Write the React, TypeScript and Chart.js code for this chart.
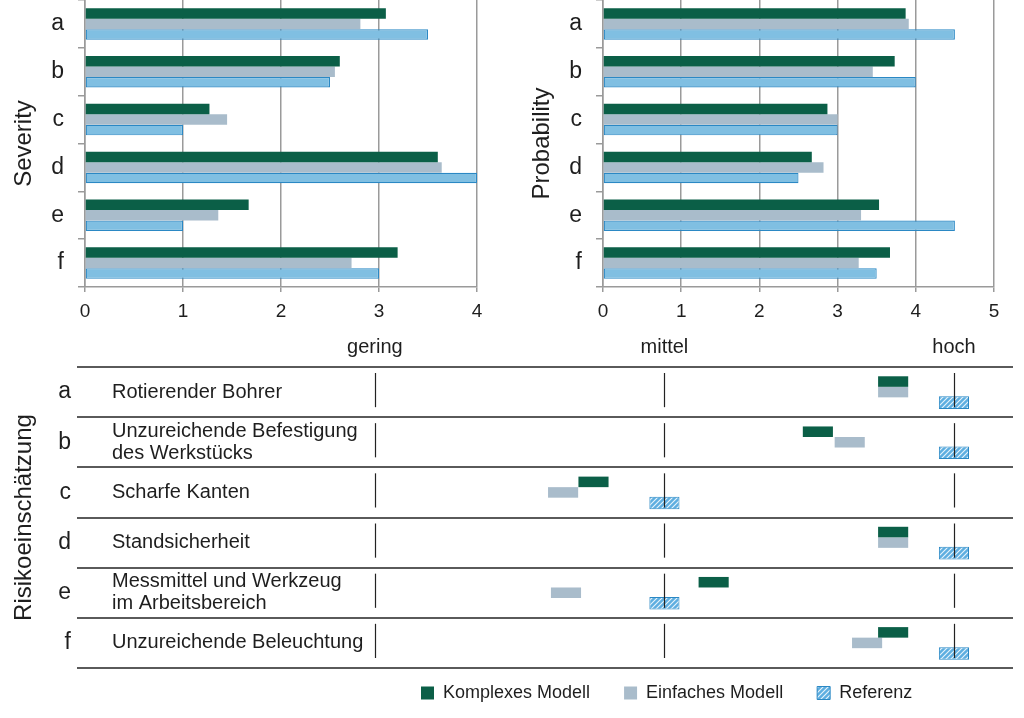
import { useEffect, useRef } from 'react';
import { Chart, registerables } from 'chart.js';

Chart.register(...registerables);

// ---------------- data ----------------
const categories = ['a', 'b', 'c', 'd', 'e', 'f'];
const seriesNames = ['Komplexes Modell', 'Einfaches Modell', 'Referenz'];

const severityKomplex = [3.07, 2.6, 1.27, 3.6, 1.67, 3.19];
const severityEinfach = [2.81, 2.55, 1.45, 3.64, 1.36, 2.72];
const severityReferenz = [3.5, 2.5, 1.0, 4.0, 1.0, 3.0];

const probabilityKomplex = [3.87, 3.73, 2.87, 2.67, 3.53, 3.67];
const probabilityEinfach = [3.91, 3.45, 3.0, 2.82, 3.3, 3.27];
const probabilityReferenz = [4.5, 4.0, 3.0, 2.5, 4.5, 3.5];

// risk assessment on a scale gering = 1, mittel = 2, hoch = 3
const riskKomplex = [2.79, 2.53, 1.755, 2.79, 2.17, 2.79];
const riskEinfach = [2.79, 2.64, 1.65, 2.79, 1.66, 2.7];
const riskReferenz = [3, 3, 2, 3, 2, 3];

const riskDescriptions: (string | string[])[] = [
  'Rotierender Bohrer',
  ['Unzureichende Befestigung', 'des Werkstücks'],
  'Scharfe Kanten',
  'Standsicherheit',
  ['Messmittel und Werkzeug', 'im Arbeitsbereich'],
  'Unzureichende Beleuchtung',
];
const levelLabels = ['gering', 'mittel', 'hoch'];
const levelValues = [1, 2, 3];

// ---------------- styles ----------------
const FONT = 'Arial, "Liberation Sans", Helvetica, sans-serif';
const GREEN = '#0b5f47';
const GRAY = '#a9bccb';
const BLUE = '#80bfe2';
const BLUE_BORDER = '#2b88c4';
const GRID = '#9a9a9a';
const SEP = '#5a5a5a';
const TEXT = '#1e1e1e';
const MARKER_HALF = 0.052;

Chart.defaults.font.family = FONT;

function makePattern(ctx: CanvasRenderingContext2D) {
  const pc = document.createElement('canvas');
  pc.width = 5;
  pc.height = 5;
  const c = pc.getContext('2d')!;
  c.fillStyle = '#5eaee0';
  c.fillRect(0, 0, 5, 5);
  c.strokeStyle = '#e8f4fb';
  c.lineWidth = 1.1;
  c.beginPath();
  c.moveTo(-1, 6); c.lineTo(6, -1);
  c.moveTo(-3.5, 3.5); c.lineTo(3.5, -3.5);
  c.moveTo(1.5, 8.5); c.lineTo(8.5, 1.5);
  c.stroke();
  return ctx.createPattern(pc, 'repeat')!;
}

function zeroPad(s: any) {
  s.paddingTop = 0;
  s.paddingBottom = 0;
  s.paddingLeft = 0;
  s.paddingRight = 0;
}

function topConfig(title: string, k: number[], e: number[], r: number[], max: number, padRight: number): any {
  return {
    type: 'bar',
    data: {
      labels: categories,
      datasets: [
        { label: seriesNames[0], data: k, backgroundColor: GREEN, borderWidth: 0 },
        { label: seriesNames[1], data: e, backgroundColor: GRAY, borderWidth: 0 },
        { label: seriesNames[2], data: r, backgroundColor: BLUE, borderColor: BLUE_BORDER, borderWidth: 1.2, borderSkipped: false },
      ],
    },
    options: {
      indexAxis: 'y',
      responsive: false,
      animation: false,
      datasets: { bar: { categoryPercentage: 0.66, barPercentage: 1 } },
      layout: { padding: { left: 0, right: padRight, top: 0, bottom: 0 } },
      plugins: { legend: { display: false }, tooltip: { enabled: false } },
      scales: {
        x: {
          type: 'linear',
          min: 0,
          max,
          ticks: { stepSize: 1, font: { family: FONT, size: 19 }, color: TEXT, padding: 8 },
          grid: { color: GRID, lineWidth: 1.5, drawTicks: true, tickLength: 5 },
          border: { display: true, color: GRID, width: 1.5 },
          afterFit: (s: any) => { s.height = 43; zeroPad(s); },
        },
        y: {
          type: 'category',
          offset: true,
          grid: { offset: true, drawOnChartArea: false, drawTicks: true, tickLength: 7, color: GRID, lineWidth: 1.5 },
          border: { display: true, color: GRID, width: 1.5 },
          ticks: { font: { family: FONT, size: 23 }, color: TEXT, padding: 14 },
          title: { display: true, text: title, font: { family: FONT, size: 24 }, color: TEXT, padding: { top: 10, bottom: 0 } },
          afterFit: (s: any) => { s.width = 85; zeroPad(s); },
        },
      },
    },
  };
}

const rowLinesPlugin = {
  id: 'rowLines',
  afterDatasetsDraw(chart: any) {
    const { ctx } = chart;
    const x = chart.scales.x;
    const y = chart.scales.y;
    const band = y.getPixelForValue(1) - y.getPixelForValue(0);
    ctx.save();
    ctx.strokeStyle = '#222';
    ctx.lineWidth = 1.2;
    categories.forEach((_, i) => {
      const c = y.getPixelForValue(i);
      const top = c - band / 2 + 6;
      const bottom = c + band / 2 - 10;
      levelValues.forEach((v) => {
        const px = Math.round(x.getPixelForValue(v)) + 0.5;
        ctx.beginPath();
        ctx.moveTo(px, top);
        ctx.lineTo(px, bottom);
        ctx.stroke();
      });
    });
    ctx.restore();
  },
};

const legendPlacer = {
  id: 'legendPlacer',
  afterLayout(chart: any) {
    const lg = chart.legend;
    if (!lg) return;
    const h = lg.height;
    lg.left = 387;
    lg.right = chart.width;
    lg.width = lg.right - lg.left;
    lg.top = 320;
    lg.bottom = 320 + h;
  },
};

export default function App() {
  const sevRef = useRef<HTMLCanvasElement>(null);
  const probRef = useRef<HTMLCanvasElement>(null);
  const riskRef = useRef<HTMLCanvasElement>(null);

  useEffect(() => {
    const charts: Chart[] = [];
    charts.push(new Chart(sevRef.current!, topConfig('Severity', severityKomplex, severityEinfach, severityReferenz, 4, 23)));
    charts.push(new Chart(probRef.current!, topConfig('Probability', probabilityKomplex, probabilityEinfach, probabilityReferenz, 5, 30)));

    const rctx = riskRef.current!.getContext('2d')!;
    const pattern = makePattern(rctx);
    const span = (arr: number[]) => arr.map((v) => [v - MARKER_HALF, v + MARKER_HALF]);

    const riskCfg: any = {
      type: 'bar',
      data: {
        labels: categories,
        datasets: [
          { label: seriesNames[0], data: span(riskKomplex), backgroundColor: GREEN, borderWidth: 0, barPercentage: 1 },
          { label: seriesNames[1], data: span(riskEinfach), backgroundColor: GRAY, borderWidth: 0, barPercentage: 1 },
          { label: seriesNames[2], data: span(riskReferenz), backgroundColor: pattern, borderColor: BLUE_BORDER, borderWidth: 1, borderSkipped: false, barPercentage: 1.2 },
        ],
      },
      options: {
        indexAxis: 'y',
        responsive: false,
        animation: false,
        datasets: { bar: { categoryPercentage: 0.63 } },
        layout: { padding: { left: 0, right: 11, top: 0, bottom: 0 } },
        plugins: {
          tooltip: { enabled: false },
          legend: {
            display: true,
            position: 'bottom',
            align: 'start',
            labels: { font: { family: FONT, size: 18 }, color: TEXT, boxWidth: 13, boxHeight: 13, padding: 34 },
          },
        },
        scales: {
          x: {
            type: 'linear',
            position: 'top',
            min: -0.029,
            max: 3.204,
            grid: { display: false },
            border: { display: false },
            afterBuildTicks: (s: any) => { s.ticks = levelValues.map((v) => ({ value: v })); },
            ticks: {
              autoSkip: false,
              maxRotation: 0,
              callback: (v: any) => { const i = levelValues.indexOf(Number(v)); return i >= 0 ? levelLabels[i] : ''; },
              font: { family: FONT, size: 20 },
              color: TEXT,
              padding: 0,
            },
            afterFit: (s: any) => { s.height = 37; zeroPad(s); },
          },
          y: {
            type: 'category',
            position: 'left',
            weight: 1,
            offset: true,
            grid: { offset: true, drawTicks: false, color: SEP, lineWidth: 2 },
            border: { display: false },
            ticks: { font: { family: FONT, size: 23 }, color: TEXT, padding: 6 },
            title: { display: true, text: 'Risikoeinschätzung', font: { family: FONT, size: 24 }, color: TEXT, padding: { top: 10, bottom: 0 } },
            afterFit: (s: any) => { s.width = 77; zeroPad(s); },
          },
          y2: {
            type: 'category',
            position: 'left',
            weight: 0,
            labels: riskDescriptions,
            offset: true,
            grid: { display: false },
            border: { display: false },
            ticks: { mirror: true, padding: 35, font: { family: FONT, size: 20, lineHeight: 1.1 }, color: TEXT },
            afterFit: (s: any) => { s.width = 0; zeroPad(s); },
          },
        },
      },
      plugins: [rowLinesPlugin, legendPlacer],
    };
    charts.push(new Chart(riskRef.current!, riskCfg));

    return () => charts.forEach((c) => c.destroy());
  }, []);

  return (
    <div style={{ position: 'absolute', left: 0, top: 0, width: 1024, height: 718, overflow: 'hidden', background: '#ffffff' }}>
      <canvas ref={sevRef} width={500} height={330} style={{ position: 'absolute', left: 0, top: 0, width: 500, height: 330 }} />
      <canvas ref={probRef} width={506} height={330} style={{ position: 'absolute', left: 518, top: 0, width: 506, height: 330 }} />
      <canvas ref={riskRef} width={1024} height={400} style={{ position: 'absolute', left: 0, top: 330, width: 1024, height: 400 }} />
    </div>
  );
}
